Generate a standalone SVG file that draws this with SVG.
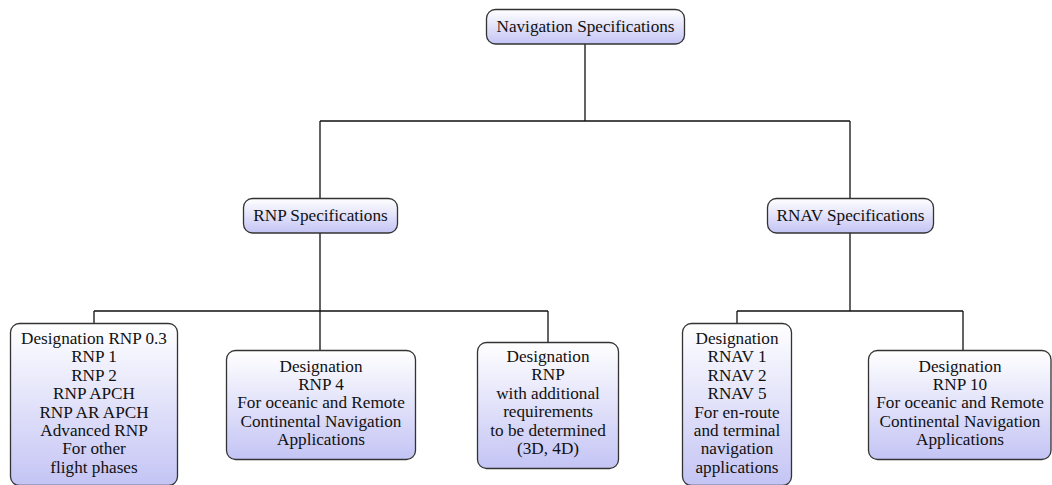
<svg xmlns="http://www.w3.org/2000/svg" width="1052" height="485" viewBox="0 0 1052 485">
<defs>
<linearGradient id="g" x1="0" y1="0" x2="0" y2="1">
<stop offset="0" stop-color="#ffffff"/>
<stop offset="1" stop-color="#c4c4f5"/>
</linearGradient>
<style>
.box{fill:url(#g);stroke:#333;stroke-width:1.3}
.t{font-family:"Liberation Serif","DejaVu Serif",serif;font-size:17.2px;fill:#111;text-anchor:middle}
.c{fill:none;stroke:#111;stroke-width:1.3}
</style>
</defs>
<rect width="1052" height="485" fill="#fff"/>
<g id="connectors">
<path class="c" d="M585 44V121M320 121H850M320 121V198M850 121V198"/>
<path class="c" d="M320 233V311M94 311H548M94 311V323M320 311V350M548 311V342"/>
<path class="c" d="M850 233V311M737 311H963M737 311V323M963 311V350"/>
</g>
<g id="n-root">
<rect class="box" x="486.5" y="9.5" width="198" height="34.5" rx="9"/>
<text class="t" x="585.5" y="32">Navigation Specifications</text>
</g>
<g id="n-rnp">
<rect class="box" x="243.5" y="198.5" width="154" height="34.5" rx="9"/>
<text class="t" x="320.5" y="221">RNP Specifications</text>
</g>
<g id="n-rnav">
<rect class="box" x="767.5" y="198.5" width="166" height="34.5" rx="9"/>
<text class="t" x="850.5" y="221">RNAV Specifications</text>
</g>
<g id="n-rnp03">
<rect class="box" x="10.5" y="323.5" width="167" height="162" rx="9"/>
<text class="t" x="94" y="344">Designation RNP 0.3<tspan x="94" dy="18.4">RNP 1</tspan><tspan x="94" dy="18.4">RNP 2</tspan><tspan x="94" dy="18.4">RNP APCH</tspan><tspan x="94" dy="18.4">RNP AR APCH</tspan><tspan x="94" dy="18.4">Advanced RNP</tspan><tspan x="94" dy="18.4">For other</tspan><tspan x="94" dy="18.4">flight phases</tspan></text>
</g>
<g id="n-rnp4">
<rect class="box" x="226.5" y="350.5" width="189" height="109" rx="9"/>
<text class="t" x="321" y="371.5">Designation<tspan x="321" dy="18.4">RNP 4</tspan><tspan x="321" dy="18.4">For oceanic and Remote</tspan><tspan x="321" dy="18.4">Continental Navigation</tspan><tspan x="321" dy="18.4">Applications</tspan></text>
</g>
<g id="n-rnpx">
<rect class="box" x="477.5" y="342.5" width="141" height="126" rx="9"/>
<text class="t" x="548" y="362">Designation<tspan x="548" dy="18.4">RNP</tspan><tspan x="548" dy="18.4">with additional</tspan><tspan x="548" dy="18.4">requirements</tspan><tspan x="548" dy="18.4">to be determined</tspan><tspan x="548" dy="18.4">(3D, 4D)</tspan></text>
</g>
<g id="n-rnav1">
<rect class="box" x="682.5" y="323.5" width="109" height="162" rx="9"/>
<text class="t" x="737" y="344">Designation<tspan x="737" dy="18.4">RNAV 1</tspan><tspan x="737" dy="18.4">RNAV 2</tspan><tspan x="737" dy="18.4">RNAV 5</tspan><tspan x="737" dy="18.4">For en-route</tspan><tspan x="737" dy="18.4">and terminal</tspan><tspan x="737" dy="18.4">navigation</tspan><tspan x="737" dy="18.4">applications</tspan></text>
</g>
<g id="n-rnp10">
<rect class="box" x="868.5" y="350.5" width="182.5" height="109" rx="9"/>
<text class="t" x="960" y="371.5">Designation<tspan x="960" dy="18.4">RNP 10</tspan><tspan x="960" dy="18.4">For oceanic and Remote</tspan><tspan x="960" dy="18.4">Continental Navigation</tspan><tspan x="960" dy="18.4">Applications</tspan></text>
</g>
</svg>
